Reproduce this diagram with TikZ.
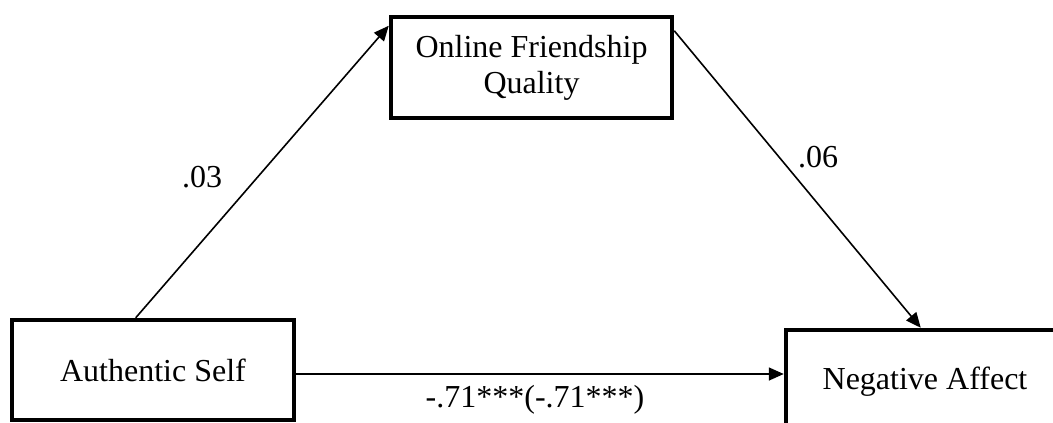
\documentclass[tikz,border=0pt]{standalone}
\usepackage{fontspec}
\setmainfont{Liberation Serif}
\usetikzlibrary{arrows.meta}
\begin{document}
\begin{tikzpicture}[x=1pt,y=-1pt,
  varbox/.style={draw=black,line width=4.5pt,fill=white,inner sep=0pt,align=center,
    font=\fontsize{32}{36}\selectfont},
  arr/.style={line width=1.6pt,-{Triangle[length=15pt,width=13pt]}},
  lbl/.style={font=\fontsize{32}{36}\selectfont,inner sep=0pt}]
\useasboundingbox (0,0) rectangle (1053,423);
\clip (0,0) rectangle (1053,423);
\node[varbox,minimum width=282pt,minimum height=100pt] (as) at (153,370) {Authentic Self};
\node[varbox,minimum width=281pt,minimum height=101pt] (ofq) at (531.5,67.5) {Online Friendship\\Quality};
\node[varbox,minimum width=278pt,minimum height=104pt] (na) at (925,382) {Negative Affect};
\draw[arr] ([xshift=126pt]as.north west) -- ([yshift=-11pt]ofq.north west);
\draw[arr] ([yshift=-16pt]ofq.north east) -- ([xshift=137pt]na.north west);
\draw[arr] ([yshift=-4pt]as.east) -- ([yshift=-4pt]as.east -| na.west);
\node[lbl] (l1) at (202,177) {.03};
\node[lbl] (l2) at (818,157) {.06};
\node[lbl] (l3) at (535,400) {-.71***(-.71***)};
\end{tikzpicture}
\end{document}
